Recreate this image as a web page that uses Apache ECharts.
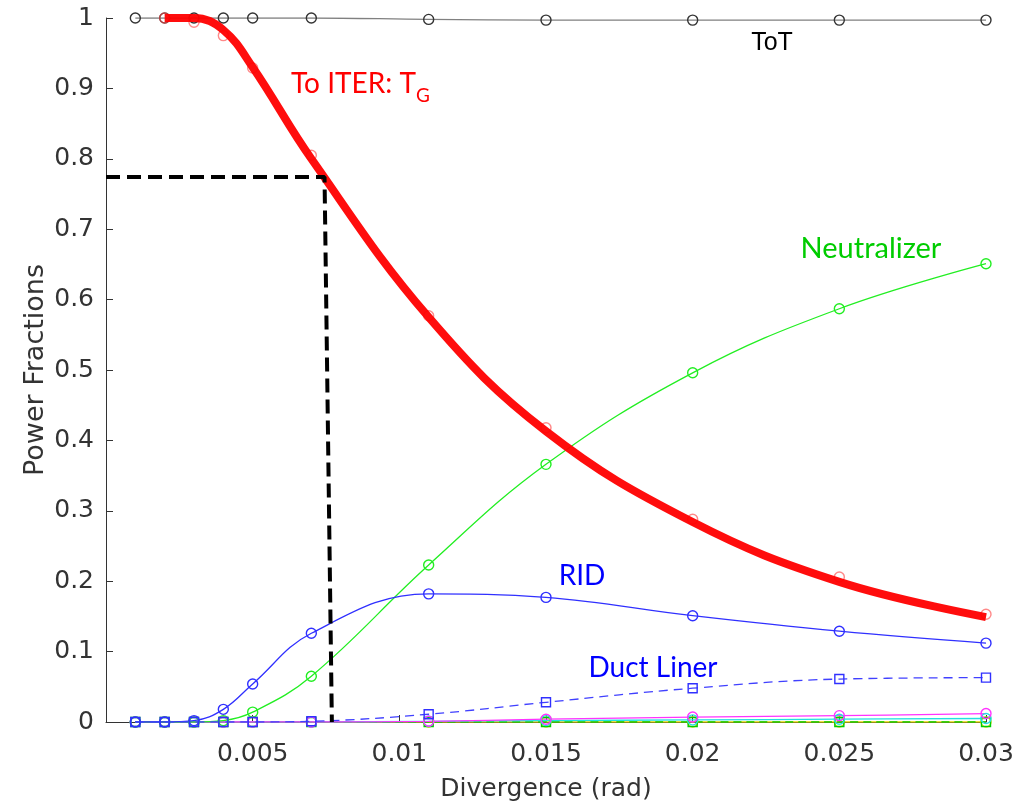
<!DOCTYPE html>
<html><head><meta charset="utf-8">
<script src="https://cdn.jsdelivr.net/npm/echarts@6/dist/echarts.min.js"></script>
<style>html,body{margin:0;padding:0;background:#fff}#c{width:1017px;height:805px}</style>
</head><body><div id="c"></div>
<script>
// ---- data ----
const divergence = [0.001, 0.002, 0.003, 0.004, 0.005, 0.007, 0.011, 0.015, 0.020, 0.025, 0.030];
const totValues = [1, 1, 1, 1, 1, 1, 0.998, 0.997, 0.997, 0.997, 0.997];
const iterPoints = [null, 1.0, 0.994, 0.975, 0.929, 0.805, 0.577, 0.418, 0.288, 0.206, 0.153];
const iterFit = [null, 1.0, 1.0, 0.983, 0.930, 0.800, 0.575, 0.413, 0.284, 0.199, 0.149];
const neutralizer = [0, 0, 0, 0.002, 0.014, 0.065, 0.223, 0.366, 0.496, 0.587, 0.651];
const rid = [0, 0, 0.002, 0.018, 0.054, 0.126, 0.182, 0.177, 0.151, 0.129, 0.112];
const ductLiner = [0, 0, 0, 0, 0, 0.001, 0.011, 0.028, 0.048, 0.061, 0.063];
const magentaLoss = [0, 0, 0, 0, 0, 0, 0.001, 0.004, 0.007, 0.009, 0.012];
const cyanLoss = [0, 0, 0, 0, 0, 0, 0.001, 0.002, 0.003, 0.004, 0.005];
const yellowLoss = [0, 0, 0, 0, 0, 0, 0, 0, 0, 0, 0];
const greenDashLoss = [0, 0, 0, 0, 0, 0, 0, 0, 0, 0, 0];
const refX = [0, 0.00745, 0.0077];
const refY = [0.774, 0.774, 0];
const xTickLabels = ['', '0.005', '0.01', '0.015', '0.02', '0.025', '0.03'];
const yTickLabels = ['0', '0.1', '0.2', '0.3', '0.4', '0.5', '0.6', '0.7', '0.8', '0.9', '1'];

const pairs = (xs, ys) => xs.map((x, i) => [x, ys[i]]).filter(p => p[1] !== null);
const axisColor = '#333333';
const annFont = 'Lato, "Open Sans", sans-serif';
const clear = 'rgba(0,0,0,0)';

function lineSeries(ys, color, opts) {
  return Object.assign({
    type: 'line',
    data: pairs(divergence, ys),
    symbol: 'circle',
    symbolSize: 10,
    showAllSymbol: true,
    smooth: 0.4,
    lineStyle: { color: color, width: 1.3 },
    itemStyle: { color: clear, borderColor: color, borderWidth: 1.4 },
    emphasis: { disabled: true },
    animation: false
  }, opts || {});
}

const chart = echarts.init(document.getElementById('c'), null, { renderer: 'canvas' });
chart.setOption({
  animation: false,
  backgroundColor: '#fff',
  grid: { left: 106, right: 31, top: 18, bottom: 83, containLabel: false, outerBoundsMode: 'none' },
  xAxis: {
    type: 'value', min: 0, max: 0.03, interval: 0.005,
    name: 'Divergence (rad)', nameLocation: 'middle', nameGap: 55, nameMoveOverlap: false,
    nameTextStyle: { fontFamily: 'DejaVu Sans', fontSize: 25, color: axisColor },
    axisLine: { show: true, onZero: false, lineStyle: { color: axisColor, width: 1 } },
    axisTick: { show: true, inside: true, length: 7, lineStyle: { color: axisColor } },
    axisLabel: {
      margin: 20, fontFamily: 'DejaVu Sans', fontSize: 25, color: axisColor,
      formatter: v => xTickLabels[Math.round(v / 0.005)]
    },
    splitLine: { show: false }
  },
  yAxis: {
    type: 'value', min: 0, max: 1, interval: 0.1,
    name: 'Power Fractions', nameLocation: 'middle', nameGap: 57, nameMoveOverlap: false,
    nameTextStyle: { fontFamily: 'DejaVu Sans', fontSize: 27, color: axisColor },
    axisLine: { show: true, onZero: false, lineStyle: { color: axisColor, width: 1 } },
    axisTick: { show: true, inside: true, length: 7, lineStyle: { color: axisColor } },
    axisLabel: {
      margin: 12, fontFamily: 'DejaVu Sans', fontSize: 25, color: axisColor,
      formatter: v => yTickLabels[Math.round(v / 0.1)]
    },
    splitLine: { show: false }
  },
  series: [
    lineSeries(yellowLoss, '#e6d800', { z: 2 }),
    lineSeries(greenDashLoss, '#00cc00', { symbol: 'rect', symbolSize: 9, lineStyle: { color: '#00cc00', width: 1.3, type: [8, 5] }, z: 2 }),
    lineSeries(cyanLoss, '#22e0e0', { z: 2 }),
    lineSeries(magentaLoss, '#ff33ff', { z: 2 }),
    lineSeries(totValues, '#333333', { lineStyle: { color: '#808080', width: 1.3 }, z: 3 }),
    lineSeries(neutralizer, '#22ee22', { z: 3 }),
    lineSeries(rid, '#3030ff', { z: 3 }),
    lineSeries(ductLiner, '#3030ff', { symbol: 'rect', symbolSize: 9, lineStyle: { color: '#4040ff', width: 1.3, type: [9, 6] }, z: 3 }),
    {
      type: 'scatter', data: pairs(divergence, iterPoints), symbol: 'circle', symbolSize: 10,
      itemStyle: { color: clear, borderColor: 'rgba(255,70,70,0.8)', borderWidth: 1.4 },
      emphasis: { disabled: true }, z: 4, animation: false
    },
    {
      type: 'line', data: pairs(divergence, iterFit), smooth: 0.4, symbol: 'none',
      lineStyle: { color: '#ff0000', width: 8, opacity: 0.95 }, z: 5, animation: false
    },
    {
      type: 'line', data: pairs(refX, refY), symbol: 'none',
      lineStyle: { color: '#000', width: 4, type: [14, 7] }, z: 6, animation: false
    }
  ],
  graphic: [
    { type: 'text', x: 772, y: 43, z: 10, style: { text: 'ToT', fill: '#000', font: '25px "Liberation Sans", Arial, sans-serif', align: 'center', verticalAlign: 'middle' } },
    { type: 'text', x: 291, y: 84, z: 10, style: { text: 'To ITER: T', fill: '#ff0000', font: '28px ' + annFont, align: 'left', verticalAlign: 'middle' } },
    { type: 'text', x: 416, y: 96, z: 10, style: { text: 'G', fill: '#ff0000', font: '19px ' + annFont, align: 'left', verticalAlign: 'middle' } },
    { type: 'text', x: 871, y: 249, z: 10, style: { text: 'Neutralizer', fill: '#00cc00', font: '29px ' + annFont, align: 'center', verticalAlign: 'middle' } },
    { type: 'text', x: 582, y: 576, z: 10, style: { text: 'RID', fill: '#0000ff', font: '28px ' + annFont, align: 'center', verticalAlign: 'middle' } },
    { type: 'text', x: 653, y: 668, z: 10, style: { text: 'Duct Liner', fill: '#0000ff', font: '28px ' + annFont, align: 'center', verticalAlign: 'middle' } }
  ]
});
</script>
</body></html>
